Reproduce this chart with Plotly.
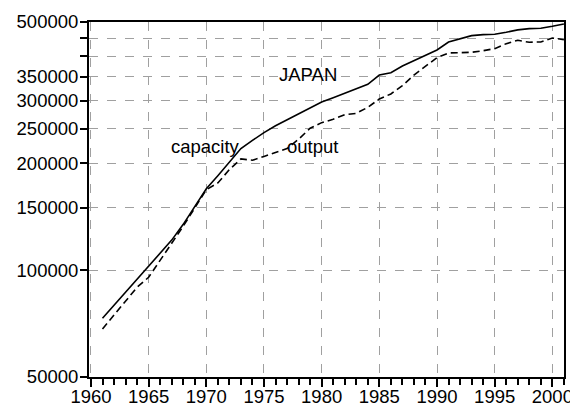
import plotly.graph_objects as go

years = list(range(1961, 2002))
capacity = [73150, 79600, 86700, 94100, 102500, 111600, 121500, 134600, 151300, 169500,
            184500, 201700, 220000, 232000, 244000, 255000, 265000, 275000, 285500, 297600,
            306000, 315000, 323800, 333800, 354500, 359800, 375700, 389000, 401800, 416900,
            439000, 448700, 457600, 460600, 461800, 467900, 475000, 478900, 480200, 486400,
            493600]
output = [68300, 74600, 81600, 89500, 95500, 107000, 119000, 133000, 150000, 168500,
          176000, 192000, 205700, 204000, 209000, 214000, 220000, 233700, 251000, 260300,
          266000, 274000, 276500, 287500, 303500, 313500, 330900, 354500, 374200, 396800,
          409000, 410800, 410800, 415000, 420600, 434500, 444100, 438400, 439300, 450800,
          445700]

y_tickvals = [50000, 100000, 150000, 200000, 250000, 300000, 350000, 400000, 450000, 500000]
y_ticktext = ["50000", "100000", "150000", "200000", "250000", "300000", "350000", "", "", "500000"]
x_tickvals = [1960, 1965, 1970, 1975, 1980, 1985, 1990, 1995, 2000]

FONT = "Arial, Liberation Sans, sans-serif"
FS = 18.5

fig = go.Figure()
fig.add_trace(go.Scatter(x=years, y=capacity, mode="lines", name="capacity",
                         line=dict(color="black", width=1.6)))
fig.add_trace(go.Scatter(x=years, y=output, mode="lines", name="output",
                         line=dict(color="black", width=1.6, dash="7px,4px")))

fig.add_annotation(x=1978.8, y=5.5524, text="JAPAN", showarrow=False,
                   font=dict(size=FS, color="black", family=FONT))
fig.add_annotation(x=1969.97, y=5.347, text="capacity", showarrow=False,
                   font=dict(size=FS, color="black", family=FONT))
fig.add_annotation(x=1979.23, y=5.347, text="output", showarrow=False,
                   font=dict(size=FS, color="black", family=FONT))

# the page body adds an 8px offset, margins compensate for it
fig.update_layout(
    width=578, height=411,
    margin=dict(l=81, r=22, t=14, b=42),
    paper_bgcolor="white", plot_bgcolor="white",
    showlegend=False,
    font=dict(family=FONT, size=FS, color="black"),
)
fig.update_xaxes(
    automargin=False,
    range=[1959.83, 2001.01],
    tickmode="array", tickvals=x_tickvals,
    ticks="outside", ticklen=8, tickwidth=1.5, tickcolor="black",
    ticklabelstandoff=-6,
    minor=dict(dtick=1, tick0=1960, ticks="outside", ticklen=6, tickwidth=1.5,
               tickcolor="black", showgrid=False),
    showline=True, linecolor="black", linewidth=2, mirror=True,
    showgrid=True, gridcolor="#a0a0a0", gridwidth=1, griddash="dash",
    zeroline=False,
    tickfont=dict(size=FS, family=FONT, color="black"),
)
fig.update_yaxes(
    automargin=False,
    type="log",
    range=[4.69897, 5.69897],
    tickmode="array", tickvals=y_tickvals, ticktext=y_ticktext,
    ticks="outside", ticklen=7, tickwidth=1.5, tickcolor="black",
    ticklabelstandoff=-2,
    showline=True, linecolor="black", linewidth=2, mirror=True,
    showgrid=True, gridcolor="#a0a0a0", gridwidth=1, griddash="dash",
    zeroline=False,
    tickfont=dict(size=FS, family=FONT, color="black"),
)

fig.write_html("out.html")
